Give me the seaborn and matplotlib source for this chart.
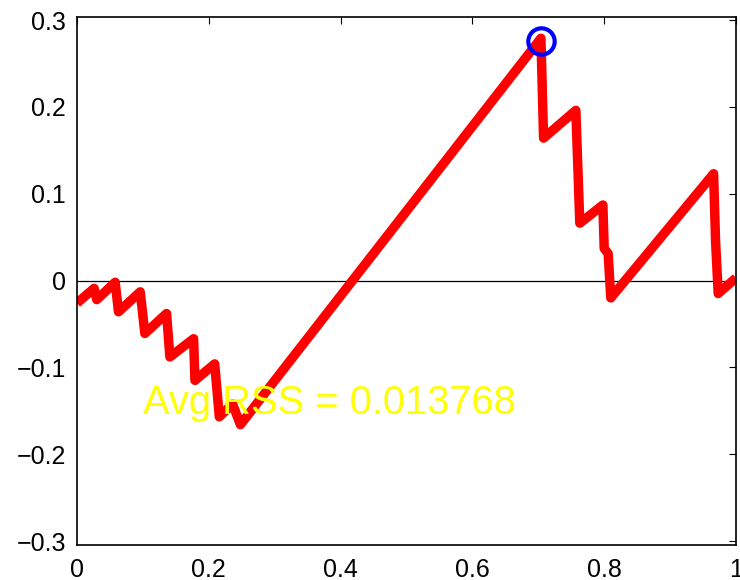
import matplotlib
matplotlib.use("Agg")
import matplotlib.pyplot as plt
import seaborn as sns
import pandas as pd

sns.set_style("white")
plt.rcParams['font.family'] = ['Liberation Sans', 'DejaVu Sans']

x_vals = [0.000, 0.026, 0.030, 0.058, 0.063, 0.096, 0.103, 0.136, 0.141, 0.177,
          0.179, 0.209, 0.216, 0.236, 0.248, 0.704, 0.708, 0.757, 0.763, 0.798,
          0.800, 0.806, 0.810, 0.966, 0.969, 0.973, 1.000]
y_vals = [-0.026, -0.009, -0.022, -0.002, -0.036, -0.013, -0.061, -0.038, -0.088, -0.067,
          -0.115, -0.096, -0.157, -0.142, -0.166, 0.279, 0.164, 0.196, 0.066, 0.087,
          0.037, 0.031, -0.020, 0.123, 0.045, -0.015, 0.003]
peak_x = [0.704]
peak_y = [0.276]
x_ticks = [0, 0.2, 0.4, 0.6, 0.8, 1]
x_tick_labels = ["0", "0.2", "0.4", "0.6", "0.8", "1"]
y_ticks = [-0.3, -0.2, -0.1, 0, 0.1, 0.2, 0.3]
y_tick_labels = ["\u22120.3", "\u22120.2", "\u22120.1", "0", "0.1", "0.2", "0.3"]
label_text = "Avg RSS = 0.013768"

df = pd.DataFrame({"x": x_vals, "y": y_vals})
pk = pd.DataFrame({"x": peak_x, "y": peak_y})

fig = plt.figure(figsize=(7.4, 5.8), dpi=100)
ax = fig.add_axes([0.104, 0.0603, 0.8906, 0.9104])

ax.axhline(0, color="black", lw=0.9, zorder=1)
sns.lineplot(data=df, x="x", y="y", sort=False, estimator=None, ax=ax,
             color="#ff0000", lw=6.8, zorder=2,
             solid_joinstyle="round", solid_capstyle="butt")
ax.plot(pk["x"], pk["y"], marker="o", ms=19, mfc="none", mec="#0000ff",
        mew=3, ls="none", zorder=3)
ax.text(0.1, -0.154, label_text, color="#ffff00", fontsize=28.7,
        va="baseline", ha="left", zorder=4)

ax.set_xlim(0, 1)
ax.set_ylim(-0.3046, 0.3035)
ax.set_xticks(x_ticks)
ax.set_xticklabels(x_tick_labels)
ax.set_yticks(y_ticks)
ax.set_yticklabels(y_tick_labels)
ax.set_xlabel("")
ax.set_ylabel("")
ax.tick_params(direction="in", length=5, width=0.8, top=True, right=True,
               labelsize=18, colors="black")
ax.tick_params(axis="y", pad=8)
ax.tick_params(axis="x", pad=9)
for s in ax.spines.values():
    s.set_color("black")
    s.set_linewidth(1.2)

fig.savefig("out.png", dpi=100)
